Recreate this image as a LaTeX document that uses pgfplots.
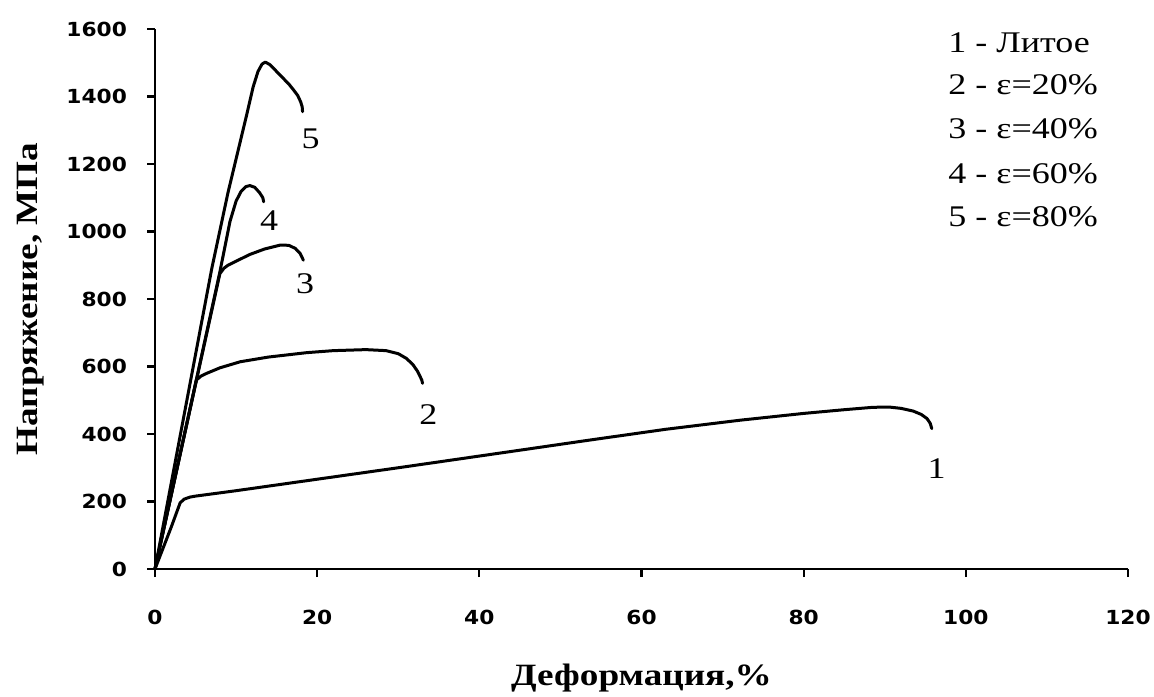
\documentclass[border=0pt]{standalone}
\usepackage{fontspec}
\setmainfont{Liberation Serif}[FakeStretch=1.2]
\newfontfamily\tickfont{DejaVu Sans}[FakeStretch=1.12]
\usepackage{pgfplots}
\pgfplotsset{compat=1.18}
\begin{document}
\begin{tikzpicture}
\begin{axis}[
  name=ax, at={(0,0)}, anchor=south west,
  scale only axis, width=486.5pt, height=270pt,
  xmin=0, xmax=120, ymin=0, ymax=1600,
  xtick={0,20,...,120}, ytick={0,200,...,1600},
  axis lines*=left,
  axis line style={line width=1.2pt, black},
  tick style={line width=1.1pt, black},
  major tick length=4pt,
  tick align=outside,
  /pgf/number format/assume math mode=true,
  /pgf/number format/1000 sep={},
  ticklabel style={font=\tickfont\bfseries\fontsize{9.7}{11}\selectfont},
  xticklabel style={yshift=-13pt},
  yticklabel style={xshift=-6.5pt},
  xlabel={Деформация,\%},
  ylabel={Напряжение, МПа},
  label style={font=\bfseries\fontsize{15.5}{18}\selectfont},
  xlabel style={at={(axis description cs:0.5,-0.2148)}, anchor=base},
  ylabel style={at={(axis description cs:-0.1274,0.5)}, anchor=center},
  clip=false,
  every axis plot post/.append style={black, mark=none, line width=1.5pt, line join=round, line cap=round},
]
% 1 - cast
\addplot coordinates {(0,0)(1,62)(2,124)(3.1,196)(3.6,207)(4.3,213)(5,216)(10,232)(20,266)(30,300)(35.2,318)(45,352)(53.6,382)(63,414)(72.2,441)(80,461)(85,472)(88.5,479)(90.5,480)(92,476)(93.5,468)(94.5,458)(95.2,446)(95.6,432)(95.8,416)};
% 2 - 20%
\addplot coordinates {(0,0)(5.1,560)(5.7,572)(6.4,580)(8,596)(10.5,614)(14,628)(18.7,641)(22,647)(26,650)(28.5,647)(30,638)(31,624)(31.8,606)(32.4,585)(32.9,560)(33,550)};
% 3 - 40%
\addplot coordinates {(0,0)(8.0,875)(8.5,891)(9,900)(10,912)(11.7,932)(13.5,948)(15.5,960)(16.5,959)(17.3,950)(17.9,935)(18.3,915)};
% 4 - 60%
\addplot coordinates {(0,0)(8.0,880)(9.25,1030)(10,1090)(10.6,1118)(11.2,1133)(11.7,1136)(12.3,1131)(12.9,1115)(13.3,1100)(13.4,1088)};
% 5 - 80%
\addplot coordinates {(0,0)(7,890)(9,1115)(10.3,1245)(11.3,1345)(12.1,1428)(12.7,1474)(13.2,1496)(13.6,1502)(14.2,1494)(15.4,1464)(16.5,1437)(17.1,1419)(17.6,1403)(17.95,1385)(18.15,1370)(18.2,1355)};
% curve labels
\node[font=\fontsize{15}{18}\selectfont] at (axis cs:96.4,298) {1};
\node[font=\fontsize{15}{18}\selectfont] at (axis cs:33.7,459) {2};
\node[font=\fontsize{15}{18}\selectfont] at (axis cs:18.5,846) {3};
\node[font=\fontsize{15}{18}\selectfont] at (axis cs:14.06,1032) {4};
\node[font=\fontsize{15}{18}\selectfont] at (axis cs:19.2,1274) {5};
% legend text
\node[anchor=base west, inner sep=0pt, font=\fontsize{15}{18}\selectfont] at (rel axis cs:0.815,0.957) {1 - Литое};
\node[anchor=base west, inner sep=0pt, font=\fontsize{15}{18}\selectfont] at (rel axis cs:0.815,0.878) {2 - ε=20\%};
\node[anchor=base west, inner sep=0pt, font=\fontsize{15}{18}\selectfont] at (rel axis cs:0.815,0.7976) {3 - ε=40\%};
\node[anchor=base west, inner sep=0pt, font=\fontsize{15}{18}\selectfont] at (rel axis cs:0.815,0.714) {4 - ε=60\%};
\node[anchor=base west, inner sep=0pt, font=\fontsize{15}{18}\selectfont] at (rel axis cs:0.815,0.634) {5 - ε=80\%};
\end{axis}
\pgfresetboundingbox
\path (-77.5pt,-63.5pt) rectangle (499.5pt,284.5pt);
\end{tikzpicture}
\end{document}
